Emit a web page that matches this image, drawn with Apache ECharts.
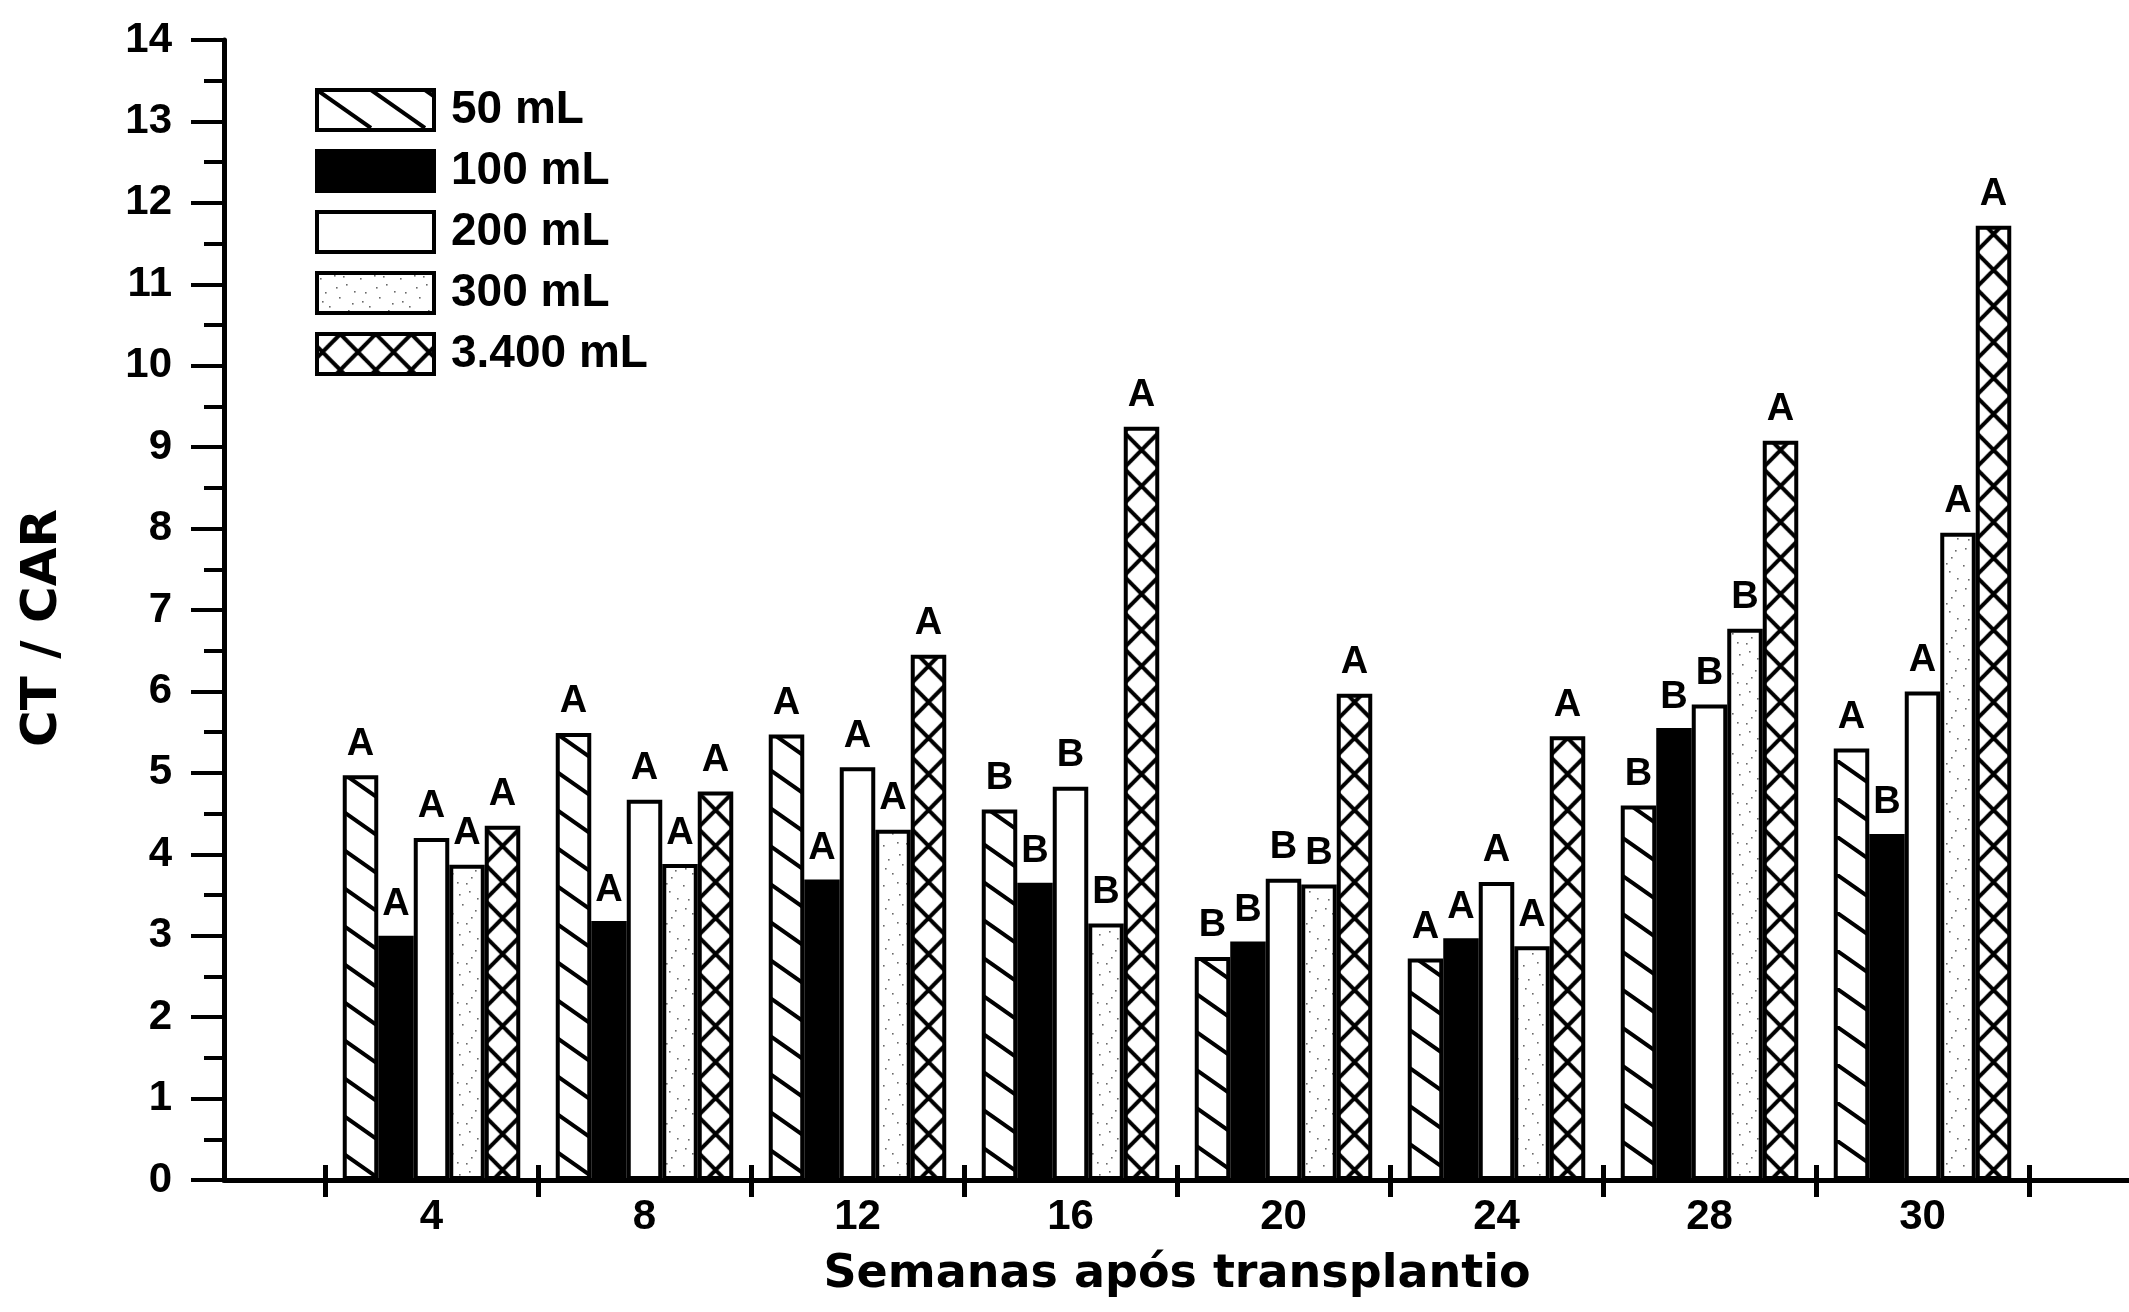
<!DOCTYPE html>
<html>
<head>
<meta charset="utf-8">
<script src="https://cdn.jsdelivr.net/npm/echarts@6/dist/echarts.min.js"></script>
<style>
  html, body { margin: 0; padding: 0; background: #fff; }
  #chart { width: 2129px; height: 1312px; }
</style>
</head>
<body>
<div id="chart"></div>
<script>
// Weeks after transplanting (category axis)
const weeks = ['4', '8', '12', '16', '20', '24', '28', '30'];
const seriesNames = ['50 mL', '100 mL', '200 mL', '300 mL', '3.400 mL'];

// CT / CAR ratio per container volume
const v50   = [4.97, 5.49, 5.47, 4.55, 2.74, 2.72, 4.60, 5.30];
const v100  = [3.00, 3.18, 3.69, 3.65, 2.93, 2.97, 5.55, 4.25];
const v200  = [4.20, 4.67, 5.07, 4.83, 3.70, 3.66, 5.84, 6.00];
const v300  = [3.87, 3.88, 4.30, 3.15, 3.63, 2.87, 6.77, 7.95];
const v3400 = [4.35, 4.77, 6.45, 9.25, 5.97, 5.45, 9.08, 11.72];

// Mean-comparison letters shown above each bar
const g50   = ['A', 'A', 'A', 'B', 'B', 'A', 'B', 'A'];
const g100  = ['A', 'A', 'A', 'B', 'B', 'A', 'B', 'B'];
const g200  = ['A', 'A', 'A', 'B', 'B', 'A', 'B', 'A'];
const g300  = ['A', 'A', 'A', 'B', 'B', 'A', 'B', 'A'];
const g3400 = ['A', 'A', 'A', 'A', 'A', 'A', 'A', 'A'];

// Y axis range
const yMin = 0, yMax = 14, yStep = 1;

// ---- fill patterns -------------------------------------------------------
function makeTile(w, h, draw) {
  const c = document.createElement('canvas');
  c.width = w; c.height = h;
  const ctx = c.getContext('2d');
  ctx.fillStyle = '#fff';
  ctx.fillRect(0, 0, w, h);
  draw(ctx, w, h);
  return c;
}

// single diagonal hatching
const hatchTile = makeTile(54, 38, (ctx, w, h) => {
  ctx.strokeStyle = '#000';
  ctx.lineWidth = 4;
  for (const dx of [-w, 0, w]) {
    ctx.beginPath();
    ctx.moveTo(dx, 0);
    ctx.lineTo(dx + w, h);
    ctx.stroke();
  }
});

// cross hatching, two cells per tile so one tile spans 2 bar widths
const cellW = 35.5, cellH = 36;
const crossTile = makeTile(71, cellH, (ctx, w, h) => {
  ctx.strokeStyle = '#000';
  ctx.lineWidth = 4;
  for (let x0 = -cellW; x0 <= w; x0 += cellW) {
    for (const y0 of [-h, 0, h]) {
      ctx.beginPath();
      ctx.moveTo(x0, y0); ctx.lineTo(x0 + cellW, y0 + h);
      ctx.moveTo(x0 + cellW, y0); ctx.lineTo(x0, y0 + h);
      ctx.stroke();
    }
  }
});

// light stipple
const stippleDots = [[3,5],[17,2],[29,11],[8,19],[22,24],[35,30],[12,33],[31,37],[26,3],[5,28],[19,14],[37,18]];
const stippleTile = makeTile(40, 40, (ctx) => {
  ctx.fillStyle = '#6a6a6a';
  stippleDots.forEach(([x, y]) => ctx.fillRect(x, y, 1.6, 1.6));
});

const fills = [
  { image: hatchTile, repeat: 'repeat' },
  '#000',
  '#fff',
  { image: stippleTile, repeat: 'repeat' },
  { image: crossTile, repeat: 'repeat', x: 58.75, y: 0 }
];

const valueSets = [v50, v100, v200, v300, v3400];
const letterSets = [g50, g100, g200, g300, g3400];

const numFont = 'Liberation Sans, Arial, sans-serif';
const titleFont = 'DejaVu Sans, sans-serif';

const series = seriesNames.map((name, i) => ({
  name: name,
  type: 'bar',
  xAxisIndex: 0,
  yAxisIndex: 0,
  data: valueSets[i],
  barWidth: 35.5,
  barGap: '0%',
  itemStyle: { color: fills[i], borderColor: '#000', borderWidth: 4 },
  label: {
    show: true,
    position: 'top',
    distance: 12,
    formatter: p => letterSets[i][p.dataIndex],
    fontFamily: numFont,
    fontWeight: 'bold',
    fontSize: 38,
    color: '#000'
  }
}));

const chart = echarts.init(document.getElementById('chart'), null, { renderer: 'canvas' });
chart.setOption({
  animation: false,
  backgroundColor: '#fff',
  grid: [
    { left: 325, right: 100, top: 40, bottom: 132 },
    { left: 224, right: 0, top: 40, bottom: 132 }
  ],
  legend: {
    orient: 'vertical',
    left: 310,
    top: 82,
    itemWidth: 117,
    itemHeight: 40,
    itemGap: 15,
    icon: 'rect',
    selectedMode: false,
    itemStyle: { borderColor: '#000', borderWidth: 4 },
    textStyle: { fontFamily: numFont, fontWeight: 'bold', fontSize: 46, color: '#000', padding: [0, 0, 0, 12] },
    data: seriesNames
  },
  xAxis: [
    {
      type: 'category', gridIndex: 0, data: weeks,
      axisLine: { show: false },
      axisTick: { show: true, inside: false, length: 17, lineStyle: { color: '#000', width: 5 } },
      axisLabel: { fontFamily: numFont, fontWeight: 'bold', fontSize: 42, color: '#000', margin: 16 },
      name: 'Semanas após transplantio',
      nameLocation: 'middle',
      nameGap: 72,
      nameTextStyle: { fontFamily: titleFont, fontWeight: 'bold', fontSize: 46, color: '#000' }
    },
    {
      type: 'category', gridIndex: 0, data: weeks, position: 'bottom',
      axisLine: { show: false },
      axisTick: { show: true, inside: true, length: 15, lineStyle: { color: '#000', width: 5 } },
      axisLabel: { show: false }
    },
    {
      type: 'value', gridIndex: 1, min: 0, max: 1,
      axisLine: { show: true, lineStyle: { color: '#000', width: 5 } },
      axisTick: { show: false }, axisLabel: { show: false }, splitLine: { show: false }
    }
  ],
  yAxis: [
    { type: 'value', gridIndex: 0, min: yMin, max: yMax, interval: yStep, show: false },
    {
      type: 'value', gridIndex: 1, min: yMin, max: yMax, interval: yStep,
      axisLine: { show: true, lineStyle: { color: '#000', width: 5 } },
      axisTick: { show: true, length: 33, lineStyle: { color: '#000', width: 4 } },
      minorTick: { show: true, splitNumber: 2, length: 20, lineStyle: { color: '#000', width: 4 } },
      axisLabel: { fontFamily: numFont, fontWeight: 'bold', fontSize: 42, color: '#000', margin: 52 },
      splitLine: { show: false },
      name: 'CT / CAR',
      nameLocation: 'middle',
      nameRotate: 90,
      nameGap: 156,
      nameTextStyle: { fontFamily: titleFont, fontWeight: 'bold', fontSize: 50, color: '#000', padding: [0, 36, 0, 0] }
    }
  ],
  series: series
});
</script>
</body>
</html>
